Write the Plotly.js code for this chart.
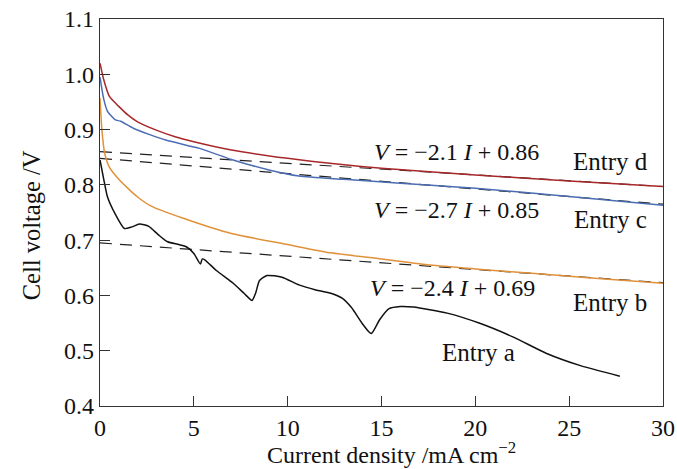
<!DOCTYPE html>
<html><head><meta charset="utf-8">
<script src="https://cdn.plot.ly/plotly-3.0.1.min.js"></script>
<style>html,body{margin:0;padding:0;background:#fff}#chart{width:677px;height:469px}</style>
</head><body><div id="chart"></div>
<script>
// Entry d (red)
const dX = [0,0.2,0.5,1,1.5,2,3,4,5,7,10,12.5,15,20,25,30];
const dY = [1.02,0.99,0.96,0.942,0.926,0.914,0.899,0.887,0.878,0.863,0.848,0.838,0.83,0.818,0.807,0.797];
// Entry c (blue)
const cX = [0,0.2,0.4,0.8,1.1,1.8,3.5,5.3,7,9,10.6,13,16,20,25,30];
const cY = [0.995,0.955,0.933,0.918,0.915,0.902,0.881,0.866,0.846,0.827,0.816,0.81,0.803,0.794,0.779,0.763];
// Entry b (orange)
const bX = [0,0.1,0.25,0.5,1,1.6,2,2.7,4.4,7,10,12.3,15,17.6,20,23,26,30];
const bY = [0.957,0.9,0.857,0.832,0.81,0.79,0.778,0.762,0.74,0.712,0.692,0.677,0.666,0.655,0.648,0.64,0.632,0.622];
// Entry a (black)
const aX = [0,0.2,0.4,0.8,1.3,1.7,2.1,2.6,3.1,3.6,4.2,4.6,5.0,5.35,5.45,5.6,6.2,7.1,7.7,8.1,8.3,8.5,8.9,9.7,10.6,11.5,12.3,12.9,13.4,14,14.45,14.9,15.4,16,16.7,18.5,20.2,22,23.8,25.6,27.7];
const aY = [0.845,0.81,0.778,0.748,0.721,0.724,0.729,0.725,0.71,0.697,0.692,0.688,0.676,0.657,0.666,0.664,0.645,0.622,0.603,0.591,0.605,0.627,0.636,0.633,0.619,0.61,0.604,0.595,0.578,0.548,0.531,0.556,0.576,0.58,0.579,0.568,0.55,0.525,0.495,0.473,0.454];
// Linear fits (dashed)
const fitX = [0,30];
const fitD = [0.86,0.797];
const fitC = [0.848,0.765];
const fitB = [0.695,0.623];
// Labels
const eqLabels = ["<i>V</i> = −2.1 <i>I</i> + 0.86","<i>V</i> = −2.7 <i>I</i> + 0.85","<i>V</i> = −2.4 <i>I</i> + 0.69"];
const eqPos = [[19,0.859],[19,0.754],[18.8,0.613]];
const entryLabels = ["Entry d","Entry c","Entry b","Entry a"];
const entryPos = [[27.2,0.842],[27.2,0.738],[27.2,0.588],[20.15,0.497]];
const xTitle = 'Current density /mA cm<sup>−2</sup>';
const yTitle = 'Cell voltage /V';
const xTicks = [0,5,10,15,20,25,30];
const yTicks = [0.4,0.5,0.6,0.7,0.8,0.9,1.0,1.1];

const FONT = "'Liberation Serif', 'Times New Roman', serif";
const dash = {color:'#222', width:1.2, dash:'12px,8px'};
const sp = {shape:'spline', smoothing:0.6};
const traces = [
  {x:fitX,y:fitD,mode:'lines',line:dash},
  {x:fitX,y:fitC,mode:'lines',line:dash},
  {x:fitX,y:fitB,mode:'lines',line:dash},
  {x:dX,y:dY,mode:'lines',line:Object.assign({color:'#a8282a',width:1.5},sp)},
  {x:cX,y:cY,mode:'lines',line:Object.assign({color:'#4c6db4',width:1.5},sp)},
  {x:bX,y:bY,mode:'lines',line:Object.assign({color:'#e0913a',width:1.5},sp)},
  {x:aX,y:aY,mode:'lines',line:Object.assign({color:'#111',width:1.5},sp)}
];
const tf = {family:FONT,size:24,color:'#111'};
const annotations = [];
eqLabels.forEach((t,i)=>annotations.push({x:eqPos[i][0],y:eqPos[i][1],text:t,showarrow:false,font:{family:FONT,size:24,color:'#111'}}));
entryLabels.forEach((t,i)=>annotations.push({x:entryPos[i][0],y:entryPos[i][1],text:t,showarrow:false,font:{family:FONT,size:25,color:'#111'}}));
annotations.push({xref:'paper',yref:'paper',x:0.517,y:-0.1627,xanchor:'center',yanchor:'bottom',borderpad:0,text:xTitle,showarrow:false,font:tf});
annotations.push({xref:'paper',yref:'paper',x:-0.1226,y:0.467,xanchor:'center',yanchor:'middle',textangle:-90,text:yTitle,showarrow:false,font:{family:FONT,size:24.5,color:'#111'}});

const layout = {
  width:677,height:469,
  margin:{l:100,r:14,t:19,b:63},
  paper_bgcolor:'#fff',plot_bgcolor:'#fff',
  showlegend:false,
  font:{family:FONT,size:24,color:'#111'},
  xaxis:{range:[0,30],tickvals:xTicks,ticktext:xTicks.map(String),ticks:'inside',ticklen:10,tickcolor:'#333',
    showline:true,linecolor:'#333',linewidth:1.3,mirror:true,showgrid:false,zeroline:false,
    tickfont:{family:FONT,size:24,color:'#111'}},
  yaxis:{range:[0.4,1.1],tickvals:yTicks,ticktext:yTicks.map(v=>v.toFixed(1)),ticks:'inside',ticklen:10,tickcolor:'#333',
    showline:true,linecolor:'#333',linewidth:1.3,mirror:true,showgrid:false,zeroline:false,
    tickfont:{family:FONT,size:24,color:'#111'}},
  annotations:annotations
};
Plotly.newPlot('chart',traces,layout,{displayModeBar:false,staticPlot:true});
</script></body></html>
